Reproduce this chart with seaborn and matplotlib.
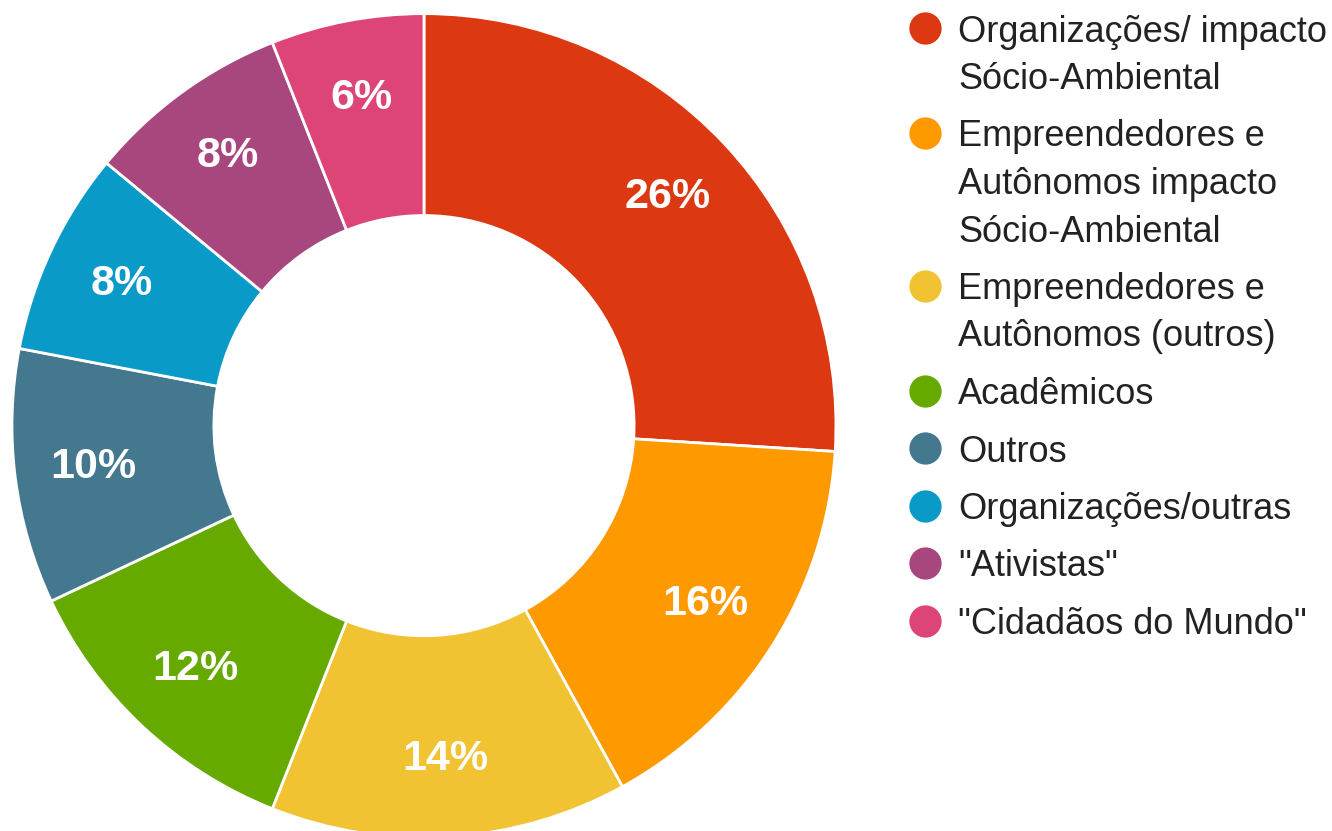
import matplotlib
matplotlib.use("Agg")
import matplotlib.pyplot as plt
import seaborn as sns

categories = [
    "Organizações/ impacto\nSócio-Ambiental",
    "Empreendedores e\nAutônomos impacto\nSócio-Ambiental",
    "Empreendedores e\nAutônomos (outros)",
    "Acadêmicos",
    "Outros",
    "Organizações/outras",
    "\"Ativistas\"",
    "\"Cidadãos do Mundo\"",
]
shares = [26, 16, 14, 12, 10, 8, 8, 6]
colors = ["#DC3912", "#FF9900", "#F1C232", "#66AA00",
          "#44788F", "#0A9AC7", "#A8477D", "#DD4477"]

sns.set_theme(style="white")
plt.rcParams["font.family"] = ["Liberation Sans", "DejaVu Sans"]

fig = plt.figure(figsize=(13.32, 8.31), dpi=100)

# donut
ax = fig.add_axes([0.009, -0.008, 0.6186, 0.9916])
wedges, texts, autotexts = ax.pie(
    shares, colors=colors, startangle=90, counterclock=False,
    autopct=lambda p: f"{p:.0f}%", pctdistance=0.81,
    wedgeprops=dict(width=0.49, edgecolor="white", linewidth=2),
    textprops=dict(color="white", fontsize=31, fontweight="bold"))
ax.set_xlim(-1, 1)
ax.set_ylim(-1, 1)
ax.set_aspect("equal")
ax.axis("off")

# legend, drawn by hand so the dot sits on the first line
lax = fig.add_axes([890 / 1332, 0, 442 / 1332, 1])
lax.set_xlim(890, 1332)
lax.set_ylim(831, 0)
lax.axis("off")
line_h = 47.5
gap = 10
y = 28
for label, c in zip(categories, colors):
    lines = label.split("\n")
    lax.scatter([925], [y], s=540, color=c, linewidths=0, clip_on=False)
    for i, line in enumerate(lines):
        lax.text(958, y + i * line_h, line, fontsize=26, color="#222222",
                 va="center_baseline", ha="left")
    y += len(lines) * line_h + gap

fig.savefig("out.png", dpi=100, facecolor="white")
